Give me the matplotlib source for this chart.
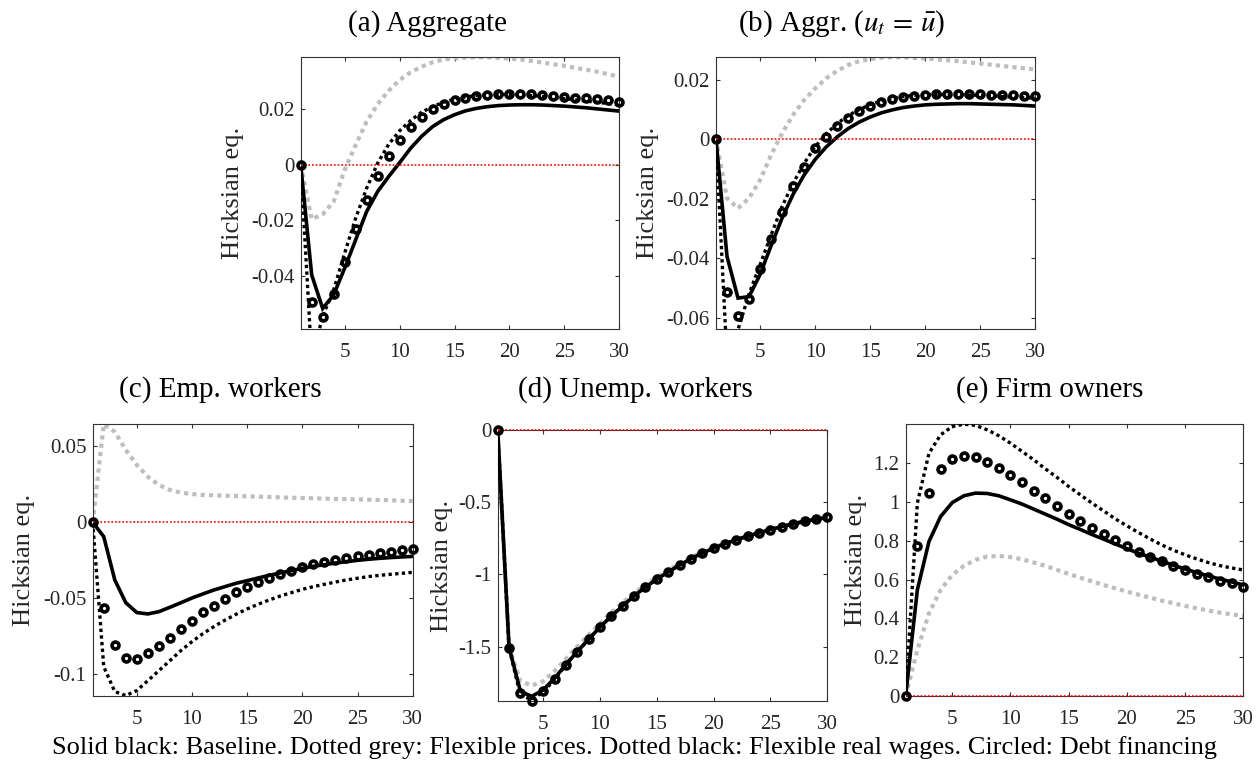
import numpy as np
import matplotlib
matplotlib.use("Agg")
import matplotlib.pyplot as plt
from matplotlib.ticker import FixedLocator, FuncFormatter

plt.rcParams['font.family'] = ['Liberation Serif', 'DejaVu Serif']
plt.rcParams['mathtext.fontset'] = 'stix'
plt.rcParams['axes.unicode_minus'] = False

periods = np.arange(1, 31)

# (a) Aggregate
base_a = [0, -0.0396, -0.0517, -0.0468, -0.0372, -0.0270, -0.0168, -0.0096, -0.0042, 0.0008,
          0.0060, 0.0103, 0.0138, 0.0163, 0.0181, 0.0195, 0.0204, 0.0210, 0.0214, 0.0216,
          0.0217, 0.0217, 0.0216, 0.0214, 0.0212, 0.0209, 0.0206, 0.0202, 0.0198, 0.0194]
flexp_a = [0, -0.0195, -0.0178, -0.0132, -0.0018, 0.0072, 0.0156, 0.0219, 0.0267, 0.0306,
           0.0334, 0.0354, 0.0370, 0.0380, 0.0384, 0.0387, 0.0388, 0.0388, 0.0386, 0.0383,
           0.0380, 0.0375, 0.0369, 0.0363, 0.0357, 0.0350, 0.0343, 0.0336, 0.0327, 0.0318]
flexw_a = [0, -0.0700, -0.0545, -0.0450, -0.0318, -0.0192, -0.0084, 0.0006, 0.0074, 0.0123,
           0.0160, 0.0190, 0.0210, 0.0226, 0.0237, 0.0245, 0.0250, 0.0253, 0.0254, 0.0254,
           0.0252, 0.0250, 0.0247, 0.0243, 0.0239, 0.0235, 0.0230, 0.0226, 0.0221, 0.0216]
debt_a = [0, -0.0495, -0.0547, -0.0465, -0.0351, -0.0231, -0.0126, -0.0038, 0.0034, 0.0090,
          0.0138, 0.0173, 0.0202, 0.0219, 0.0233, 0.0242, 0.0248, 0.0253, 0.0255, 0.0257,
          0.0255, 0.0254, 0.0251, 0.0248, 0.0246, 0.0243, 0.0240, 0.0236, 0.0233, 0.0228]

# (b) Aggregate with constant unemployment
base_b = [0, -0.0394, -0.0534, -0.0529, -0.0455, -0.0358, -0.0265, -0.0185, -0.0120, -0.0068,
          -0.0026, 0.0008, 0.0036, 0.0058, 0.0075, 0.0089, 0.0099, 0.0107, 0.0112, 0.0116,
          0.0118, 0.0119, 0.0120, 0.0120, 0.0119, 0.0118, 0.0117, 0.0116, 0.0114, 0.0112]
flexp_b = [0, -0.0198, -0.0232, -0.0198, -0.0137, -0.0053, 0.0020, 0.0082, 0.0132, 0.0171,
           0.0205, 0.0230, 0.0250, 0.0263, 0.0270, 0.0275, 0.0276, 0.0276, 0.0274, 0.0272,
           0.0269, 0.0266, 0.0263, 0.0259, 0.0255, 0.0251, 0.0247, 0.0243, 0.0239, 0.0235]
flexw_b = [0, -0.0740, -0.0640, -0.0520, -0.0422, -0.0322, -0.0226, -0.0148, -0.0081, -0.0025,
           0.0018, 0.0053, 0.0080, 0.0100, 0.0117, 0.0129, 0.0138, 0.0144, 0.0148, 0.0150,
           0.0151, 0.0151, 0.0150, 0.0149, 0.0148, 0.0146, 0.0144, 0.0142, 0.0140, 0.0138]
debt_b = [0, -0.0514, -0.0593, -0.0538, -0.0436, -0.0336, -0.0243, -0.0157, -0.0093, -0.0030,
          0.0009, 0.0046, 0.0073, 0.0095, 0.0113, 0.0127, 0.0137, 0.0143, 0.0147, 0.0150,
          0.0151, 0.0152, 0.0152, 0.0151, 0.0151, 0.0150, 0.0149, 0.0148, 0.0147, 0.0146]

# (c) Employed workers
base_c = [0, -0.0094, -0.0379, -0.0529, -0.0594, -0.0603, -0.0588, -0.0559, -0.0529, -0.0498,
          -0.0471, -0.0445, -0.0423, -0.0401, -0.0384, -0.0366, -0.0349, -0.0333, -0.0318, -0.0303,
          -0.0289, -0.0279, -0.0268, -0.0259, -0.0250, -0.0243, -0.0237, -0.0232, -0.0228, -0.0224]
flexp_c = [0, 0.0645, 0.0596, 0.0476, 0.0377, 0.0300, 0.0246, 0.0213, 0.0195, 0.0186,
           0.0180, 0.0178, 0.0175, 0.0173, 0.0171, 0.0169, 0.0167, 0.0164, 0.0162, 0.0160,
           0.0158, 0.0156, 0.0154, 0.0153, 0.0151, 0.0149, 0.0147, 0.0145, 0.0142, 0.0140]
flexw_c = [0, -0.0950, -0.1114, -0.1140, -0.1107, -0.1042, -0.0976, -0.0910, -0.0844, -0.0785,
           -0.0732, -0.0686, -0.0643, -0.0605, -0.0570, -0.0539, -0.0511, -0.0485, -0.0463, -0.0441,
           -0.0423, -0.0408, -0.0393, -0.0379, -0.0368, -0.0357, -0.0349, -0.0342, -0.0336, -0.0329]
debt_c = [0, -0.0561, -0.0807, -0.0890, -0.0897, -0.0862, -0.0814, -0.0759, -0.0702, -0.0647,
          -0.0592, -0.0548, -0.0504, -0.0461, -0.0428, -0.0395, -0.0368, -0.0340, -0.0318, -0.0294,
          -0.0277, -0.0262, -0.0248, -0.0235, -0.0223, -0.0212, -0.0202, -0.0193, -0.0184, -0.0176]

# (d) Unemployed workers
base_d = [0, -1.505, -1.810, -1.845, -1.800, -1.720, -1.625, -1.535, -1.450, -1.365,
          -1.290, -1.218, -1.150, -1.088, -1.033, -0.983, -0.936, -0.892, -0.853, -0.818,
          -0.788, -0.760, -0.735, -0.712, -0.690, -0.669, -0.650, -0.633, -0.618, -0.606]
flexp_d = [0, -1.500, -1.740, -1.770, -1.740, -1.670, -1.585, -1.500, -1.420, -1.340,
           -1.265, -1.195, -1.130, -1.072, -1.018, -0.972, -0.925, -0.882, -0.845, -0.812,
           -0.785, -0.758, -0.733, -0.710, -0.688, -0.666, -0.648, -0.632, -0.620, -0.604]
flexw_d = [0, -1.510, -1.840, -1.865, -1.815, -1.728, -1.628, -1.536, -1.450, -1.364,
           -1.289, -1.217, -1.150, -1.088, -1.033, -0.983, -0.936, -0.892, -0.853, -0.818,
           -0.788, -0.760, -0.735, -0.712, -0.690, -0.669, -0.650, -0.633, -0.618, -0.606]
debt_d = [0, -1.511, -1.823, -1.874, -1.811, -1.726, -1.627, -1.535, -1.449, -1.362,
          -1.288, -1.216, -1.149, -1.087, -1.033, -0.983, -0.936, -0.892, -0.853, -0.818,
          -0.788, -0.760, -0.735, -0.712, -0.690, -0.669, -0.650, -0.633, -0.618, -0.606]

# (e) Firm owners
base_e = [0, 0.547, 0.797, 0.926, 0.998, 1.033, 1.047, 1.045, 1.033, 1.012,
          0.990, 0.964, 0.938, 0.912, 0.884, 0.859, 0.833, 0.809, 0.784, 0.760,
          0.736, 0.716, 0.695, 0.674, 0.655, 0.636, 0.619, 0.603, 0.588, 0.572]
flexp_e = [0, 0.236, 0.426, 0.547, 0.624, 0.671, 0.702, 0.719, 0.722, 0.716,
           0.705, 0.688, 0.671, 0.650, 0.629, 0.610, 0.591, 0.572, 0.555, 0.538,
           0.522, 0.507, 0.491, 0.478, 0.464, 0.452, 0.440, 0.429, 0.420, 0.412]
flexw_e = [0, 0.995, 1.253, 1.348, 1.391, 1.403, 1.397, 1.374, 1.343, 1.305,
           1.262, 1.219, 1.172, 1.128, 1.081, 1.038, 0.995, 0.955, 0.914, 0.878,
           0.843, 0.810, 0.779, 0.752, 0.728, 0.707, 0.688, 0.672, 0.660, 0.650]
debt_e = [0, 0.776, 1.045, 1.171, 1.224, 1.240, 1.231, 1.210, 1.178, 1.140,
          1.102, 1.060, 1.022, 0.981, 0.940, 0.903, 0.869, 0.834, 0.802, 0.771,
          0.745, 0.719, 0.695, 0.672, 0.650, 0.631, 0.612, 0.595, 0.581, 0.564]

titles = ['(a) Aggregate', r'(b) Aggr. ($u_t\,=\,\bar{u}$)', '(c) Emp. workers',
          '(d) Unemp. workers', '(e) Firm owners']
y_ticks = [[-0.04, -0.02, 0, 0.02],
           [-0.06, -0.04, -0.02, 0, 0.02],
           [-0.1, -0.05, 0, 0.05],
           [-1.5, -1, -0.5, 0],
           [0, 0.2, 0.4, 0.6, 0.8, 1, 1.2]]
y_limits = [(-0.0591, 0.0389), (-0.0638, 0.0277), (-0.1141, 0.0647), (-1.877, 0), (0, 1.404)]
x_ticks = [5, 10, 15, 20, 25, 30]
caption = ('Solid black: Baseline. Dotted grey: Flexible prices. '
           'Dotted black: Flexible real wages. Circled: Debt financing')

series = [(base_a, flexp_a, flexw_a, debt_a),
          (base_b, flexp_b, flexw_b, debt_b),
          (base_c, flexp_c, flexw_c, debt_c),
          (base_d, flexp_d, flexw_d, debt_d),
          (base_e, flexp_e, flexw_e, debt_e)]

W, H = 1260, 770
fig = plt.figure(figsize=(W / 100, H / 100), dpi=100)
fig.patch.set_facecolor('white')

# panel frames in pixels: left, right, top, bottom
frames = [(300.7, 619.3, 57, 329),
          (716.0, 1035.3, 57, 329),
          (92.7, 412.7, 424, 695.7),
          (497.7, 827.3, 430, 701),
          (905.7, 1243.3, 424, 695.7)]
title_pos = [(427, 24), (842, 24), (220, 390), (635, 390), (1050, 390)]
ylabel_x = [233, 648, 24, 442, 856]

edge = '#333333'
fmt = FuncFormatter(lambda v, p: '%g' % round(v, 6))

for i, (l, r, t, b) in enumerate(frames):
    ax = fig.add_axes([l / W, 1 - b / H, (r - l) / W, (b - t) / H])
    base, flexp, flexw, debt = series[i]
    ax.plot(periods, flexp, color='#BEBEBE', lw=3.0, ls=(0, (1, 1)), zorder=2)
    ax.plot(periods, base, color='black', lw=2.6, solid_joinstyle='miter', zorder=3)
    ax.plot(periods, flexw, color='black', lw=2.4, ls=(0, (1, 1)), zorder=4)
    ax.plot(periods, np.zeros(len(periods)), color='red', lw=1.2, ls=(0, (1, 1.2)),
            zorder=5, clip_on=False)
    ax.plot(periods, debt, ls='none', marker='o', ms=5.0, mew=2.6, mec='black',
            mfc='none', zorder=6, clip_on=False)
    ax.set_xlim(1, 30)
    ax.set_ylim(*y_limits[i])
    ax.xaxis.set_major_locator(FixedLocator(x_ticks))
    ax.yaxis.set_major_locator(FixedLocator(y_ticks[i]))
    ax.yaxis.set_major_formatter(fmt)
    ax.xaxis.set_major_formatter(fmt)
    ax.tick_params(direction='in', length=3.2, width=0.8, color=edge, labelcolor='#262626',
                   labelsize=15, top=True, right=True)
    ax.tick_params(axis='x', pad=10)
    ax.tick_params(axis='y', pad=4.5)
    for s in ax.spines.values():
        s.set_color(edge)
        s.set_linewidth(0.8)
    fig.text(title_pos[i][0] / W, 1 - title_pos[i][1] / H, titles[i],
             ha='center', va='center', fontsize=21)
    fig.text(ylabel_x[i] / W, 1 - (t + b) / 2 / H, 'Hicksian eq.', rotation=90,
             ha='center', va='center', fontsize=19, color='#262626')

fig.text(634 / W, 1 - 748 / H, caption, ha='center', va='center', fontsize=19)

fig.savefig('out.png', dpi=100, facecolor='white')
